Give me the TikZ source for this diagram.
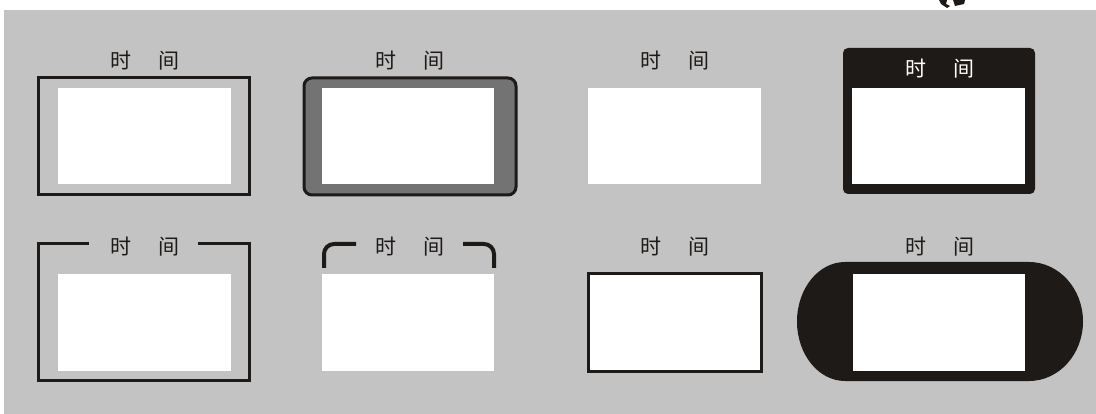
\documentclass[tikz,border=0pt]{standalone}
\usepackage{fontspec}
\newfontfamily\cjk{Noto Sans CJK SC}
\definecolor{bg}{HTML}{C3C3C3}
\definecolor{ink}{HTML}{1E1A18}
\definecolor{mid}{HTML}{737373}
\begin{document}
\begin{tikzpicture}[x=1pt,y=-1pt,
  lbl/.style={font=\cjk\fontsize{21}{21}\selectfont, text=ink, inner sep=0pt},
  win/.style={fill=white, draw=none},
  frame/.style={draw=ink, line width=3pt},
  brk/.style={draw=ink, line width=3pt}]
\useasboundingbox (0,0) rectangle (1096,414);
\fill[white] (0,0) rectangle (1096,414);
\fill[bg] (4,10) rectangle (1096,414);
% top-right fragment
\fill[ink] (939,0) -- (947,0) -- (946,4) -- (950,6) -- (947,8) -- (941,4) -- cycle;
\fill[ink] (953,0) -- (965,0) -- (964,4) -- (955,6) -- cycle;
% ---- box 1
\draw[frame] (38,78) rectangle (249,195);
\fill[win] (58,88) rectangle (231,184);
\node[lbl] (t1) at (145,61) {时\hspace{27pt}间};
% ---- box 2
\draw[frame, fill=mid, rounded corners=8pt] (304,78) rectangle (516,195);
\fill[win] (322,88) rectangle (494,184);
\node[lbl] (t2) at (410,61) {时\hspace{27pt}间};
% ---- box 3
\fill[win] (588,88) rectangle (761,184);
\node[lbl] (t3) at (675,61) {时\hspace{27pt}间};
% ---- box 4
\fill[ink, rounded corners=5pt] (843,48) rectangle (1035,194);
\fill[win] (852,88) rectangle (1025,184);
\node[lbl, text=white] (t4) at (940,69) {时\hspace{27pt}间};
% ---- box 5
\draw[brk] (89,244) -- (38,244) -- (38,380) -- (249,380) -- (249,244) -- (198,244);
\fill[win] (58,274) rectangle (231,371);
\node[lbl] (t5) at (145,247) {时\hspace{27pt}间};
% ---- box 6
\draw[brk, line width=4pt, rounded corners=10pt] (324,268) -- (324,244) -- (356,244);
\draw[brk, line width=4pt, rounded corners=10pt] (463,244) -- (494,244) -- (494,268);
\fill[win] (322,274) rectangle (494,371);
\node[lbl] (t6) at (410,247) {时\hspace{27pt}间};
% ---- box 7
\draw[frame, fill=white] (588,274) rectangle (761,371);
\node[lbl] (t7) at (675,247) {时\hspace{27pt}间};
% ---- box 8
\fill[ink] (849,262) -- (1029,262) arc[start angle=-90, end angle=90, x radius=54, y radius=59.5]
  -- (845,381) arc[start angle=90, end angle=270, x radius=48, y radius=59.5] -- cycle;
\fill[win] (853,274) rectangle (1025,371);
\node[lbl] (t8) at (940,247) {时\hspace{27pt}间};
\end{tikzpicture}
\end{document}
